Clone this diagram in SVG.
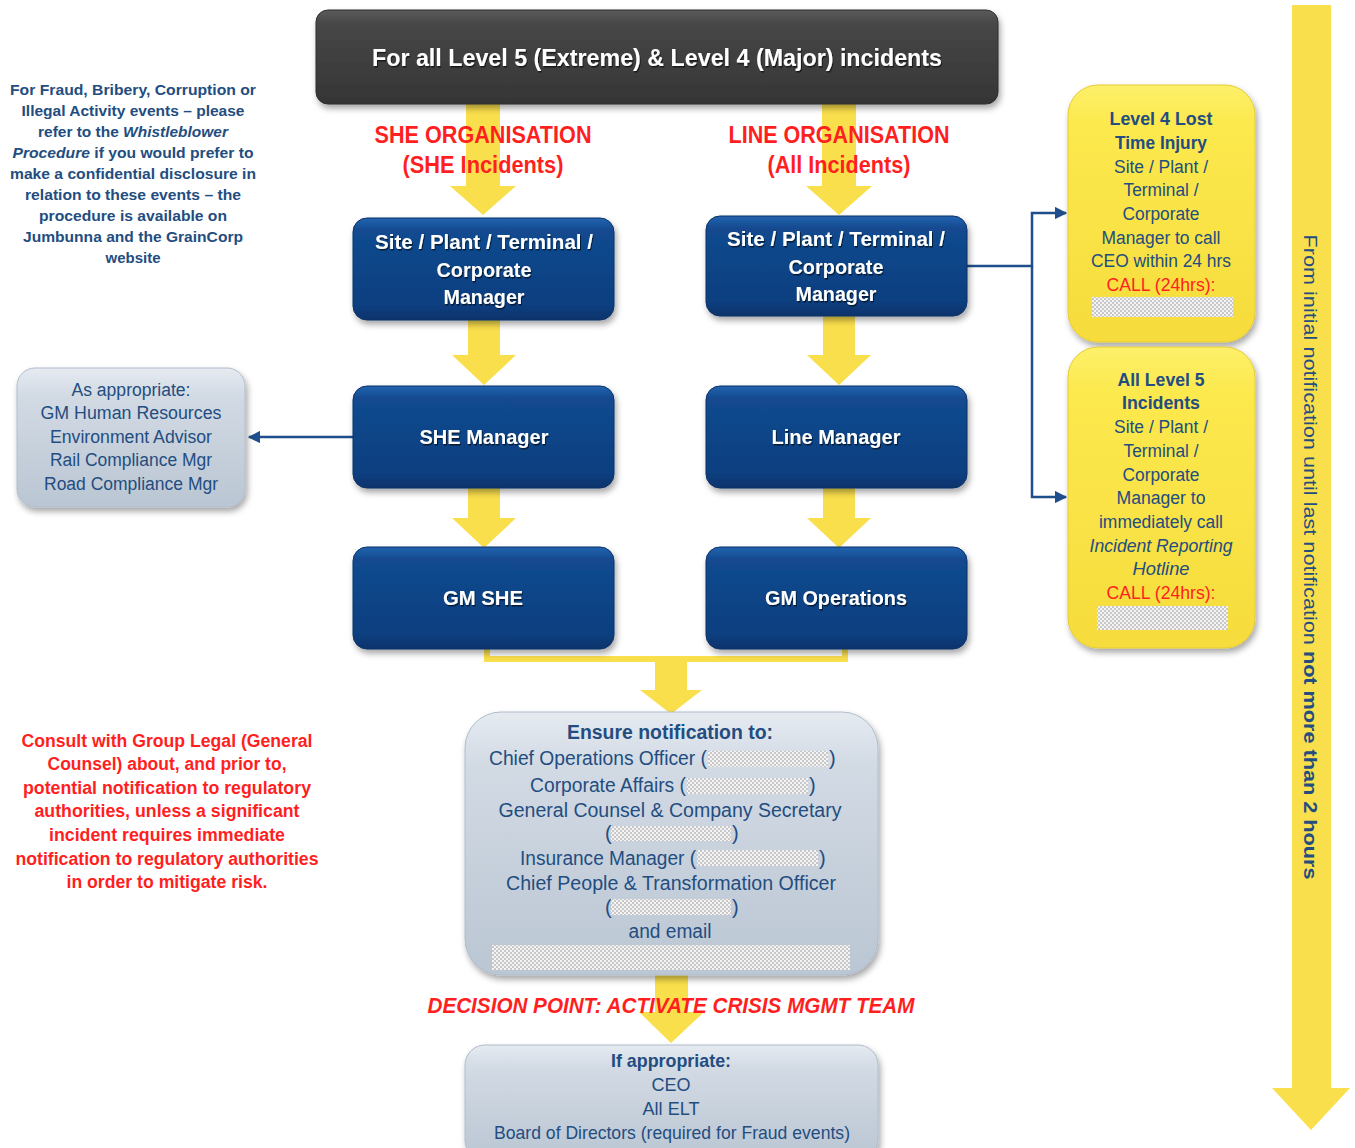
<svg xmlns="http://www.w3.org/2000/svg" width="1355" height="1148" viewBox="0 0 1355 1148">
<defs>
<linearGradient id="gBlue" x1="0" y1="0" x2="0" y2="1">
<stop offset="0" stop-color="#2464b0"/><stop offset="0.12" stop-color="#124a8f"/><stop offset="0.85" stop-color="#0c3f80"/><stop offset="1" stop-color="#0a336b"/>
</linearGradient>
<linearGradient id="gDark" x1="0" y1="0" x2="0" y2="1">
<stop offset="0" stop-color="#5a5a5a"/><stop offset="0.15" stop-color="#474747"/><stop offset="1" stop-color="#353535"/>
</linearGradient>
<linearGradient id="gGrey" x1="0" y1="0" x2="0" y2="1">
<stop offset="0" stop-color="#e6ebf1"/><stop offset="0.2" stop-color="#d2dae4"/><stop offset="1" stop-color="#bac6d3"/>
</linearGradient>
<linearGradient id="gYellow" x1="0" y1="0" x2="0" y2="1">
<stop offset="0" stop-color="#fdf06a"/><stop offset="0.15" stop-color="#fce94e"/><stop offset="1" stop-color="#f6dc3c"/>
</linearGradient>
<pattern id="hatch" patternUnits="userSpaceOnUse" width="4" height="4">
<rect width="4" height="4" fill="#c8c8c8"/><rect width="2" height="2" fill="#f4f4f4"/><rect x="2" y="2" width="2" height="2" fill="#f4f4f4"/>
</pattern>
<filter id="shadow" x="-10%" y="-10%" width="125%" height="130%">
<feDropShadow dx="2" dy="4" stdDeviation="3" flood-color="#000" flood-opacity="0.35"/>
</filter>
<filter id="tshadow" x="-5%" y="-20%" width="110%" height="150%">
<feDropShadow dx="1" dy="1.5" stdDeviation="0.6" flood-color="#000" flood-opacity="0.6"/>
</filter>
<marker id="arr" viewBox="0 0 10 10" refX="9" refY="5" markerWidth="5" markerHeight="5" orient="auto" markerUnits="strokeWidth">
<path d="M0,0 L10,5 L0,10 z" fill="#1f4e8c"/>
</marker>
</defs>
<style>
text{font-family:"Liberation Sans Narrow","Liberation Sans",Arial,sans-serif;}
.wt{fill:#ffffff;font-weight:bold;font-size:21px;text-anchor:middle;}
.red{fill:#ff1f1f;font-weight:bold;text-anchor:middle;}
.nv{fill:#234d80;text-anchor:middle;}
.nvs{fill:#234d80;}
.yl{fill:#fadf4c;}
.blue{fill:url(#gBlue);stroke:#0a3368;stroke-width:1;}
.grey{fill:url(#gGrey);stroke:#b0bccb;stroke-width:1;}
.yel{fill:url(#gYellow);stroke:#e6cb34;stroke-width:1;}
.con{fill:none;stroke:#1f4e8c;stroke-width:2.5;}
.hatch{fill:url(#hatch);}
</style>
<rect width="1355" height="1148" fill="#ffffff"/>

<g id="connectors">
<polygon class="yl" points="466,104 500,104 500,186 516,186 483,215 450,186 466,186"/>
<polygon class="yl" points="822,104 856,104 856,186 872,186 839,215 806,186 822,186"/>
<polygon class="yl" points="468,320 500,320 500,355 516,355 484,385 452,355 468,355"/>
<polygon class="yl" points="823,316 855,316 855,355 871,355 839,385 807,355 823,355"/>
<polygon class="yl" points="468,488 500,488 500,518 516,518 484,548 452,518 468,518"/>
<polygon class="yl" points="823,488 855,488 855,518 871,518 839,548 807,518 823,518"/>
<path d="M487,648 V659 H845 V648" fill="none" stroke="#fadf4c" stroke-width="6"/>
<polygon class="yl" points="655,657 687,657 687,690 702,690 671,714 640,690 655,690"/>
<polygon class="yl" points="655,975 688,975 688,1012 704,1012 671,1043 639,1012 655,1012"/>
<path class="con" d="M353,437 H249" marker-end="url(#arr)"/>
<path class="con" d="M967,266 H1032 V213 H1066" marker-end="url(#arr)"/>
<path class="con" d="M1032,266 V497 H1066" marker-end="url(#arr)"/>
</g>

<g id="banner">
<rect x="316" y="10" width="682" height="94" rx="12" fill="url(#gDark)" stroke="#2e2e2e" filter="url(#shadow)"/>
<text x="657" y="66" class="wt" font-size="24" style="font-size:24px" textLength="570" lengthAdjust="spacingAndGlyphs" filter="url(#tshadow)">For all Level 5 (Extreme) &amp; Level 4 (Major) incidents</text>
</g>

<g id="she-org-label">
<text x="483" y="143" class="red" font-size="23" textLength="217" lengthAdjust="spacingAndGlyphs">SHE ORGANISATION</text>
<text x="483" y="173" class="red" font-size="23" textLength="161" lengthAdjust="spacingAndGlyphs">(SHE Incidents)</text>
</g>
<g id="line-org-label">
<text x="839" y="143" class="red" font-size="23" textLength="221" lengthAdjust="spacingAndGlyphs">LINE ORGANISATION</text>
<text x="839" y="173" class="red" font-size="23" textLength="143" lengthAdjust="spacingAndGlyphs">(All Incidents)</text>
</g>

<g id="she-site-manager">
<rect x="353" y="218" width="261" height="102" rx="14" class="blue" filter="url(#shadow)"/>
<g filter="url(#tshadow)">
<text x="484" y="249" class="wt" textLength="218" lengthAdjust="spacingAndGlyphs">Site / Plant / Terminal /</text>
<text x="484" y="277" class="wt" textLength="95" lengthAdjust="spacingAndGlyphs">Corporate</text>
<text x="484" y="304" class="wt" textLength="81" lengthAdjust="spacingAndGlyphs">Manager</text>
</g>
</g>
<g id="line-site-manager">
<rect x="706" y="216" width="261" height="100" rx="14" class="blue" filter="url(#shadow)"/>
<g filter="url(#tshadow)">
<text x="836" y="246" class="wt" textLength="218" lengthAdjust="spacingAndGlyphs">Site / Plant / Terminal /</text>
<text x="836" y="274" class="wt" textLength="95" lengthAdjust="spacingAndGlyphs">Corporate</text>
<text x="836" y="301" class="wt" textLength="81" lengthAdjust="spacingAndGlyphs">Manager</text>
</g>
</g>
<g id="she-manager">
<rect x="353" y="386" width="261" height="102" rx="14" class="blue" filter="url(#shadow)"/>
<text x="484" y="444" class="wt" textLength="129" lengthAdjust="spacingAndGlyphs" filter="url(#tshadow)">SHE Manager</text>
</g>
<g id="line-manager">
<rect x="706" y="386" width="261" height="102" rx="14" class="blue" filter="url(#shadow)"/>
<text x="836" y="444" class="wt" textLength="129" lengthAdjust="spacingAndGlyphs" filter="url(#tshadow)">Line Manager</text>
</g>
<g id="gm-she">
<rect x="353" y="547" width="261" height="102" rx="14" class="blue" filter="url(#shadow)"/>
<text x="483" y="605" class="wt" textLength="80" lengthAdjust="spacingAndGlyphs" filter="url(#tshadow)">GM SHE</text>
</g>
<g id="gm-operations">
<rect x="706" y="547" width="261" height="102" rx="14" class="blue" filter="url(#shadow)"/>
<text x="836" y="605" class="wt" textLength="142" lengthAdjust="spacingAndGlyphs" filter="url(#tshadow)">GM Operations</text>
</g>

<g id="whistleblower-note" font-size="15" font-weight="bold">
<text x="133" y="95" class="nv" textLength="246" lengthAdjust="spacingAndGlyphs">For Fraud, Bribery, Corruption or</text>
<text x="133" y="116" class="nv" textLength="223" lengthAdjust="spacingAndGlyphs">Illegal  Activity events – please</text>
<text x="133" y="137" class="nv" textLength="190" lengthAdjust="spacingAndGlyphs">refer to the <tspan font-style="italic">Whistleblower</tspan></text>
<text x="133" y="158" class="nv" textLength="241" lengthAdjust="spacingAndGlyphs"><tspan font-style="italic">Procedure</tspan> if you would prefer to</text>
<text x="133" y="179" class="nv" textLength="246" lengthAdjust="spacingAndGlyphs">make a confidential disclosure in</text>
<text x="133" y="200" class="nv" textLength="216" lengthAdjust="spacingAndGlyphs">relation to these events – the</text>
<text x="133" y="221" class="nv" textLength="188" lengthAdjust="spacingAndGlyphs">procedure is available on</text>
<text x="133" y="242" class="nv" textLength="220" lengthAdjust="spacingAndGlyphs">Jumbunna and the GrainCorp</text>
<text x="133" y="263" class="nv" textLength="55" lengthAdjust="spacingAndGlyphs">website</text>
</g>

<g id="as-appropriate" font-size="18">
<rect x="17" y="368" width="228" height="139" rx="18" class="grey" filter="url(#shadow)"/>
<text x="131" y="396" class="nv" textLength="119" lengthAdjust="spacingAndGlyphs">As appropriate:</text>
<text x="131" y="419" class="nv" textLength="181" lengthAdjust="spacingAndGlyphs">GM Human Resources</text>
<text x="131" y="443" class="nv" textLength="162" lengthAdjust="spacingAndGlyphs">Environment Advisor</text>
<text x="131" y="466" class="nv" textLength="162" lengthAdjust="spacingAndGlyphs">Rail Compliance Mgr</text>
<text x="131" y="490" class="nv" textLength="174" lengthAdjust="spacingAndGlyphs">Road Compliance Mgr</text>
</g>

<g id="consult-note" font-size="18">
<text x="167" y="747" class="red" textLength="291" lengthAdjust="spacingAndGlyphs">Consult with Group Legal (General</text>
<text x="167" y="770" class="red" textLength="239" lengthAdjust="spacingAndGlyphs">Counsel) about, and prior to,</text>
<text x="167" y="794" class="red" textLength="288" lengthAdjust="spacingAndGlyphs">potential notification to regulatory</text>
<text x="167" y="817" class="red" textLength="265" lengthAdjust="spacingAndGlyphs">authorities, unless a significant</text>
<text x="167" y="841" class="red" textLength="236" lengthAdjust="spacingAndGlyphs">incident requires immediate</text>
<text x="167" y="865" class="red" textLength="303" lengthAdjust="spacingAndGlyphs">notification to regulatory authorities</text>
<text x="167" y="888" class="red" textLength="201" lengthAdjust="spacingAndGlyphs">in order to mitigate risk.</text>
</g>

<g id="level4-box" font-size="18">
<rect x="1068" y="85" width="187" height="257" rx="30" class="yel" filter="url(#shadow)"/>
<text x="1161" y="125" class="nv" font-weight="bold" textLength="103" lengthAdjust="spacingAndGlyphs">Level 4 Lost</text>
<text x="1161" y="149" class="nv" font-weight="bold" textLength="92" lengthAdjust="spacingAndGlyphs">Time Injury</text>
<text x="1161" y="173" class="nv" textLength="94" lengthAdjust="spacingAndGlyphs">Site / Plant /</text>
<text x="1161" y="196" class="nv" textLength="75" lengthAdjust="spacingAndGlyphs">Terminal /</text>
<text x="1161" y="220" class="nv" textLength="77" lengthAdjust="spacingAndGlyphs">Corporate</text>
<text x="1161" y="244" class="nv" textLength="119" lengthAdjust="spacingAndGlyphs">Manager to call</text>
<text x="1161" y="267" class="nv" textLength="140" lengthAdjust="spacingAndGlyphs">CEO within  24 hrs</text>
<text x="1161" y="291" fill="#ff1f1f" text-anchor="middle" textLength="109" lengthAdjust="spacingAndGlyphs">CALL (24hrs):</text>
<rect x="1092" y="297" width="141" height="20" class="hatch"/>
</g>

<g id="level5-box" font-size="18">
<rect x="1068" y="347" width="187" height="301" rx="30" class="yel" filter="url(#shadow)"/>
<text x="1161" y="386" class="nv" font-weight="bold" textLength="87" lengthAdjust="spacingAndGlyphs">All Level 5</text>
<text x="1161" y="409" class="nv" font-weight="bold" textLength="78" lengthAdjust="spacingAndGlyphs">Incidents</text>
<text x="1161" y="433" class="nv" textLength="94" lengthAdjust="spacingAndGlyphs">Site / Plant /</text>
<text x="1161" y="457" class="nv" textLength="75" lengthAdjust="spacingAndGlyphs">Terminal /</text>
<text x="1161" y="481" class="nv" textLength="77" lengthAdjust="spacingAndGlyphs">Corporate</text>
<text x="1161" y="504" class="nv" textLength="89" lengthAdjust="spacingAndGlyphs">Manager to</text>
<text x="1161" y="528" class="nv" textLength="124" lengthAdjust="spacingAndGlyphs">immediately call</text>
<text x="1161" y="552" class="nv" font-style="italic" textLength="143" lengthAdjust="spacingAndGlyphs">Incident Reporting</text>
<text x="1161" y="575" class="nv" font-style="italic" textLength="57" lengthAdjust="spacingAndGlyphs">Hotline</text>
<text x="1161" y="599" fill="#ff1f1f" text-anchor="middle" textLength="109" lengthAdjust="spacingAndGlyphs">CALL (24hrs):</text>
<rect x="1097" y="606" width="131" height="24" class="hatch"/>
</g>

<g id="ensure-notification" font-size="20">
<rect x="465" y="712" width="413" height="263" rx="36" class="grey" filter="url(#shadow)"/>
<text x="670" y="739" class="nv" font-weight="bold" textLength="206" lengthAdjust="spacingAndGlyphs">Ensure notification to:</text>
<text x="489" y="765" class="nvs" textLength="218" lengthAdjust="spacingAndGlyphs">Chief Operations Officer (</text>
<rect x="708" y="751" width="120" height="16" class="hatch"/>
<text x="829" y="765" class="nvs">)</text>
<text x="530" y="792" class="nvs" textLength="156" lengthAdjust="spacingAndGlyphs">Corporate Affairs (</text>
<rect x="687" y="778" width="121" height="16" class="hatch"/>
<text x="809" y="792" class="nvs">)</text>
<text x="670" y="817" class="nv" textLength="343" lengthAdjust="spacingAndGlyphs">General Counsel &amp; Company Secretary</text>
<text x="605" y="840" class="nvs">(</text>
<rect x="611" y="826" width="120" height="15" class="hatch"/>
<text x="732" y="840" class="nvs">)</text>
<text x="520" y="865" class="nvs" textLength="176" lengthAdjust="spacingAndGlyphs">Insurance Manager (</text>
<rect x="697" y="850" width="121" height="16" class="hatch"/>
<text x="819" y="865" class="nvs">)</text>
<text x="671" y="890" class="nv" textLength="330" lengthAdjust="spacingAndGlyphs">Chief People &amp; Transformation Officer</text>
<text x="605" y="914" class="nvs">(</text>
<rect x="611" y="899" width="120" height="16" class="hatch"/>
<text x="732" y="914" class="nvs">)</text>
<text x="670" y="938" class="nv" textLength="83" lengthAdjust="spacingAndGlyphs">and email</text>
<rect x="492" y="945" width="358" height="25" class="hatch"/>
</g>

<g id="decision-point">
<text x="671" y="1013" class="red" font-size="22" font-style="italic" textLength="487" lengthAdjust="spacingAndGlyphs">DECISION POINT: ACTIVATE CRISIS MGMT TEAM</text>
</g>

<g id="if-appropriate" font-size="19">
<rect x="465" y="1045" width="413" height="115" rx="20" class="grey" filter="url(#shadow)"/>
<text x="671" y="1067" class="nv" font-weight="bold" textLength="120" lengthAdjust="spacingAndGlyphs">If appropriate:</text>
<text x="671" y="1091" class="nv" textLength="39" lengthAdjust="spacingAndGlyphs">CEO</text>
<text x="671" y="1115" class="nv" textLength="57" lengthAdjust="spacingAndGlyphs">All ELT</text>
<text x="672" y="1139" class="nv" textLength="356" lengthAdjust="spacingAndGlyphs">Board of Directors (required for Fraud events)</text>
</g>

<g id="timeline-arrow">
<polygon points="1292,5 1331,5 1331,1088 1350,1088 1311,1130 1272,1088 1292,1088" fill="#fadf4c"/>
<text transform="translate(1310,557) rotate(90)" x="0" y="6" class="nv" font-size="18" textLength="645" lengthAdjust="spacingAndGlyphs">From initial notification until last notification <tspan font-weight="bold">not more than 2 hours</tspan></text>
</g>
</svg>
